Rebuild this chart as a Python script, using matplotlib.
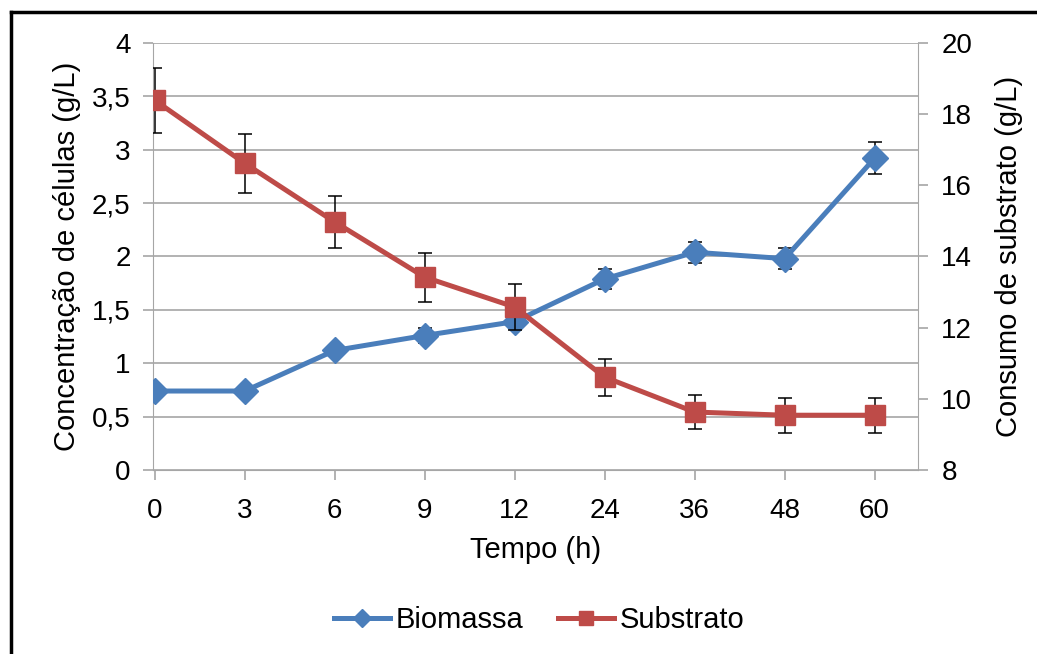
import matplotlib.pyplot as plt
from matplotlib.lines import Line2D
from matplotlib.ticker import FixedLocator

plt.rcParams['font.family'] = ['Liberation Sans', 'DejaVu Sans']

# data
tempo = ['0', '3', '6', '9', '12', '24', '36', '48', '60']
biomassa = [0.74, 0.74, 1.12, 1.26, 1.39, 1.79, 2.04, 1.98, 2.92]
biomassa_err = [0.02, 0.02, 0.04, 0.07, 0.06, 0.09, 0.10, 0.10, 0.15]
substrato = [18.39, 16.62, 14.97, 13.42, 12.58, 10.61, 9.63, 9.54, 9.54]
substrato_err = [0.91, 0.83, 0.74, 0.69, 0.65, 0.52, 0.49, 0.49, 0.49]
left_ticks = [0, 0.5, 1, 1.5, 2, 2.5, 3, 3.5, 4]
left_labels = ['0', '0,5', '1', '1,5', '2', '2,5', '3', '3,5', '4']
right_ticks = [8, 10, 12, 14, 16, 18, 20]

blue = '#4A7EBB'
red = '#BE4B48'
grid_c = '#A6A6A6'

fig = plt.figure(figsize=(10.37, 6.54), dpi=100)
ax = fig.add_axes([0.1475, 0.2813, 0.7375, 0.653])
ax2 = ax.twinx()

x = list(range(len(tempo)))

ax.errorbar(x, biomassa, yerr=biomassa_err, color=blue, lw=3.6, marker='D',
            ms=13, mec=blue, ecolor='black', elinewidth=1.1, capsize=5,
            capthick=1.1, zorder=3)
ax2.errorbar(x, substrato, yerr=substrato_err, color=red, lw=3.6, marker='s',
             ms=15, mec=red, ecolor='black', elinewidth=1.1, capsize=5,
             capthick=1.1, zorder=3)

ax.set_xlim(-0.02, 8.48)
ax.set_ylim(0, 4)
ax2.set_ylim(8, 20)
ax.set_xticks(x)
ax.set_xticklabels(tempo)
ax.yaxis.set_major_locator(FixedLocator(left_ticks))
ax.set_yticklabels(left_labels)
ax2.set_yticks(right_ticks)

ax.grid(axis='y', color=grid_c, lw=1.2)
ax.set_axisbelow(True)
for a in (ax, ax2):
    for s in a.spines.values():
        s.set_visible(False)
ax.spines['left'].set_visible(True)
ax.spines['bottom'].set_visible(True)
ax2.spines['right'].set_visible(True)
ax.spines['left'].set_color(grid_c)
ax.spines['bottom'].set_color(grid_c)
ax2.spines['right'].set_color(grid_c)
ax.tick_params(axis='both', colors=grid_c, labelcolor='black', labelsize=20,
               length=7, width=1.2, pad=9)
ax2.tick_params(axis='y', colors=grid_c, labelcolor='black', labelsize=20,
                length=7, width=1.2, pad=10)
ax.tick_params(axis='x', pad=13)

ax.set_xlabel('Tempo (h)', fontsize=21, labelpad=9)
ax.set_ylabel('Concentração de células (g/L)', fontsize=21, labelpad=8)
ax2.set_ylabel('Consumo de substrato (g/L)', fontsize=21, labelpad=16)

handles = [Line2D([], [], color=blue, lw=3.6, marker='D', ms=9, mec=blue),
           Line2D([], [], color=red, lw=3.6, marker='s', ms=10, mec=red)]
fig.legend(handles, ['Biomassa', 'Substrato'], loc='center',
           bbox_to_anchor=(0.52, 0.052), ncol=2, frameon=False, fontsize=21,
           handlelength=1.9, handletextpad=0.2, columnspacing=1.2)

# black frame (left and top edges)
fig.add_artist(Line2D([0.0105, 0.0105], [0, 0.981], color='black', lw=2.5,
                      transform=fig.transFigure))
fig.add_artist(Line2D([0.0105, 1.0], [0.981, 0.981], color='black', lw=2.5,
                      transform=fig.transFigure))

fig.savefig('out.png', dpi=100)
